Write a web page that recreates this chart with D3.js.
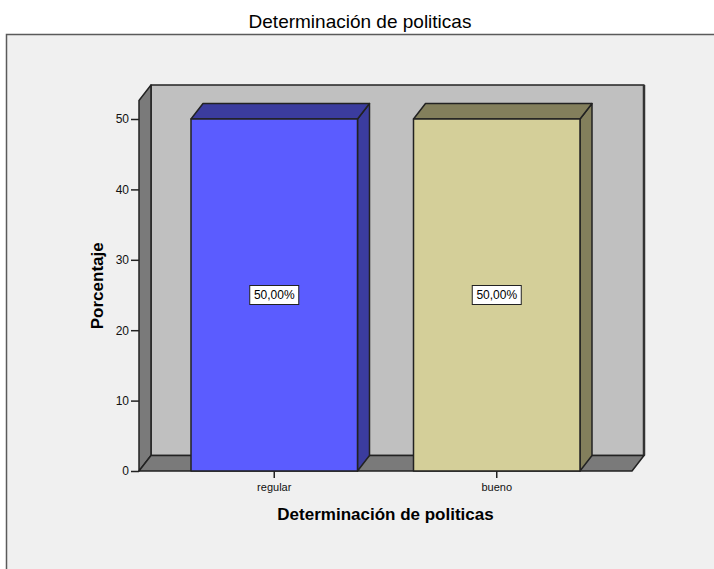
<!DOCTYPE html>
<html>
<head>
<meta charset="utf-8">
<script src="https://cdn.jsdelivr.net/npm/d3@7"></script>
<style>
  body { margin: 0; background: #fff; }
  text { font-family: "Liberation Sans", Arial, sans-serif; }
</style>
</head>
<body>
<div id="chart"></div>
<script>
// data
var categories = ['regular', 'bueno'];
var percentages = [50, 50];
var valueLabels = ['50,00%', '50,00%'];
var yTicks = [0, 10, 20, 30, 40, 50];
var frontColors = ['#5b5cff', '#d4cf99'];
var darkColors = ['#3b3c9e', '#837f5c'];

var width = 714, height = 569;

var svg = d3.select('#chart').append('svg')
  .attr('width', width)
  .attr('height', height);

// chart frame
svg.append('rect')
  .attr('x', 6.5).attr('y', 34.5)
  .attr('width', 800).attr('height', 700)
  .attr('fill', '#f0f0f0')
  .attr('stroke', '#5a5a5a')
  .attr('stroke-width', 1.5);

svg.append('text')
  .attr('x', 360).attr('y', 28)
  .attr('text-anchor', 'middle')
  .style('font-size', '19px')
  .text('Determinación de politicas');

//3d depth offset
var dx = 12, dy = 15.5;
var x0 = 139, x1 = 632, yBase = 471, wallTop = 100.5;

var xScale = d3.scaleBand()
  .domain(categories)
  .range([x0, x1])
  .paddingInner(0.2517)
  .paddingOuter(0.2337);

var yScale = d3.scaleLinear()
  .domain([0, 50])
  .range([yBase, 119]);

function pts(a) { return a.map(function(p) { return p.join(','); }).join(' '); }

var g = svg.append('g')
  .attr('stroke', '#222')
  .attr('stroke-width', 1.5)
  .attr('stroke-linejoin', 'round');

// back wall
g.append('polygon')
  .attr('points', pts([[x0 + dx, wallTop - dy], [x1 + dx, wallTop - dy], [x1 + dx, yBase - dy], [x0 + dx, yBase - dy]]))
  .attr('fill', '#c0c0c0');
// right edge of wall is heavier
g.append('line')
  .attr('x1', x1 + dx).attr('x2', x1 + dx)
  .attr('y1', wallTop - dy).attr('y2', yBase - dy)
  .attr('stroke-width', 2.5).attr('stroke', '#333');

// left wall
g.append('polygon')
  .attr('points', pts([[x0, yBase], [x0, wallTop], [x0 + dx, wallTop - dy], [x0 + dx, yBase - dy]]))
  .attr('fill', '#7a7a7a');

// floor
g.append('polygon')
  .attr('points', pts([[x0, yBase], [x1, yBase], [x1 + dx, yBase - dy], [x0 + dx, yBase - dy]]))
  .attr('fill', '#7a7a7a');

// bars
var bw = xScale.bandwidth();
var bars = g.selectAll('g.bar')
  .data(categories)
  .enter()
  .append('g')
  .attr('class', 'bar');

bars.append('polygon')
  .attr('points', function(d, i) {
    var x = xScale(d), yt = yScale(percentages[i]);
    return pts([[x + bw, yt], [x + bw + dx, yt - dy], [x + bw + dx, yBase - dy], [x + bw, yBase]]);
  })
  .attr('fill', function(d, i) { return darkColors[i]; });

bars.append('polygon')
  .attr('points', function(d, i) {
    var x = xScale(d), yt = yScale(percentages[i]);
    return pts([[x, yt], [x + dx, yt - dy], [x + bw + dx, yt - dy], [x + bw, yt]]);
  })
  .attr('fill', function(d, i) { return darkColors[i]; });

bars.append('rect')
  .attr('x', function(d) { return xScale(d); })
  .attr('y', function(d, i) { return yScale(percentages[i]); })
  .attr('width', bw)
  .attr('height', function(d, i) { return yBase - yScale(percentages[i]); })
  .attr('fill', function(d, i) { return frontColors[i]; });

// value labels
var lab = svg.selectAll('g.vlabel')
  .data(categories)
  .enter()
  .append('g')
  .attr('class', 'vlabel')
  .attr('transform', function(d, i) {
    return 'translate(' + (xScale(d) + bw / 2) + ',' + yScale(percentages[i] / 2) + ')';
  });

lab.append('rect')
  .attr('x', -24.5).attr('y', -9.5)
  .attr('width', 49).attr('height', 19)
  .attr('fill', '#fff')
  .attr('stroke', '#222')
  .attr('stroke-width', 1);

lab.append('text')
  .attr('text-anchor', 'middle')
  .attr('dy', '0.35em')
  .style('font-size', '12px')
  .text(function(d, i) { return valueLabels[i]; });

// y axis
var yAxis = svg.append('g')
  .attr('transform', 'translate(' + x0 + ',0)')
  .call(d3.axisLeft(yScale).tickValues(yTicks).tickSize(8).tickPadding(2).tickSizeOuter(0));
yAxis.select('.domain').remove();
yAxis.selectAll('line').attr('stroke', '#222').attr('stroke-width', 1.5);
yAxis.selectAll('text')
  .style('font-size', '12px')
  .style('font-family', '"Liberation Sans", Arial, sans-serif')
  .attr('fill', '#111');

// x axis
var xAxis = svg.append('g')
  .attr('transform', 'translate(0,' + yBase + ')')
  .call(d3.axisBottom(xScale).tickSize(7).tickPadding(5).tickSizeOuter(0));
xAxis.select('.domain').remove();
xAxis.selectAll('line').attr('stroke', '#222').attr('stroke-width', 1.5);
xAxis.selectAll('text')
  .style('font-size', '11px')
  .style('font-family', '"Liberation Sans", Arial, sans-serif')
  .attr('fill', '#111');

// axis titles
svg.append('text')
  .attr('x', (x0 + x1) / 2).attr('y', 520)
  .attr('text-anchor', 'middle')
  .style('font-size', '17px')
  .style('font-weight', 'bold')
  .text('Determinación de politicas');

svg.append('text')
  .attr('transform', 'translate(103,' + ((yBase + wallTop) / 2) + ') rotate(-90)')
  .attr('text-anchor', 'middle')
  .style('font-size', '17px')
  .style('font-weight', 'bold')
  .text('Porcentaje');
</script>
</body>
</html>
